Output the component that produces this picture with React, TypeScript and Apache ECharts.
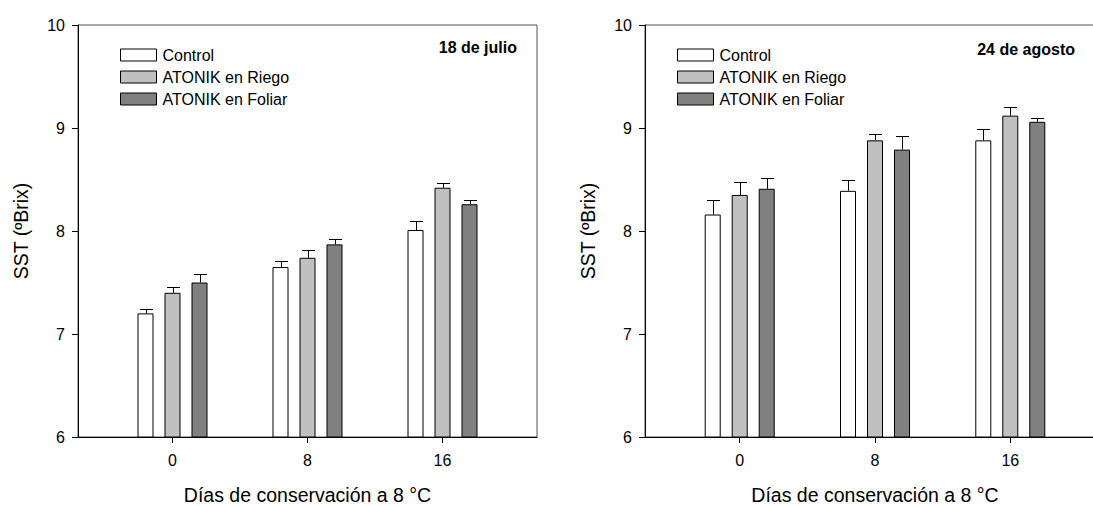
import React, { useEffect, useRef } from "react";
import * as echarts from "echarts";

const FONT = "'Liberation Sans', Arial, Helvetica, sans-serif";

// Days of storage at 8 °C (x positions)
const days = [0, 8, 16];
const dayLabels = ["0", "8", "16"];
const seriesNames = ["Control", "ATONIK en Riego", "ATONIK en Foliar"];
const seriesColors = ["#ffffff", "#c0c0c0", "#808080"];
const yTicks = [6, 7, 8, 9, 10];

// Panel 1: 18 de julio
const julioControl = [7.2, 7.65, 8.01];
const julioControlErr = [0.04, 0.06, 0.09];
const julioRiego = [7.4, 7.74, 8.42];
const julioRiegoErr = [0.06, 0.08, 0.045];
const julioFoliar = [7.5, 7.87, 8.26];
const julioFoliarErr = [0.08, 0.05, 0.04];

// Panel 2: 24 de agosto
const agostoControl = [8.16, 8.39, 8.88];
const agostoControlErr = [0.145, 0.11, 0.11];
const agostoRiego = [8.35, 8.88, 9.12];
const agostoRiegoErr = [0.13, 0.06, 0.085];
const agostoFoliar = [8.41, 8.79, 9.06];
const agostoFoliarErr = [0.1, 0.13, 0.04];

const panelTitles = ["18 de julio", "24 de agosto"];
const xTitle = "Días de conservación a 8 °C";
const yTitle = "SST (ºBrix)";

export default function App() {
  const ref = useRef<HTMLDivElement>(null);

  useEffect(() => {
    if (!ref.current) return;
    const chart = echarts.init(ref.current, null, { renderer: "svg" });

    const panels = [
      {
        vals: [julioControl, julioRiego, julioFoliar],
        errs: [julioControlErr, julioRiegoErr, julioFoliarErr],
      },
      {
        vals: [agostoControl, agostoRiego, agostoFoliar],
        errs: [agostoControlErr, agostoRiegoErr, agostoFoliarErr],
      },
    ];

    const grids = [
      { left: 78, top: 25, width: 459, height: 412 },
      { left: 645, top: 25, width: 460, height: 412 },
    ];

    const barWidth = 16;
    const barPitch = 27;

    const series: any[] = [];
    panels.forEach((p, pi) => {
      p.vals.forEach((vals, ti) => {
        series.push({
          type: "bar",
          name: seriesNames[ti],
          xAxisIndex: pi,
          yAxisIndex: pi,
          data: days.map((d, i) => [d, vals[i]]),
          barWidth: barWidth,
          barGap: "68.75%",
          itemStyle: {
            color: seriesColors[ti],
            borderColor: "#000",
            borderWidth: 1,
          },
          emphasis: { disabled: true },
          z: 2,
        });
      });
      p.vals.forEach((vals, ti) => {
        const off = (ti - 1) * barPitch;
        series.push({
          type: "custom",
          name: "err-" + pi + "-" + ti,
          xAxisIndex: pi,
          yAxisIndex: pi,
          data: days.map((d, i) => [d, vals[i], p.errs[ti][i]]),
          encode: { x: 0, y: 1 },
          z: 3,
          renderItem: (params: any, api: any) => {
            const x = api.value(0);
            const y = api.value(1);
            const e = api.value(2);
            const base = api.coord([x, y]);
            const top = api.coord([x, y + e]);
            const cx = Math.round(base[0] + off) + 0.5;
            const ty = Math.round(top[1]) + 0.5;
            return {
              type: "group",
              children: [
                {
                  type: "line",
                  shape: { x1: cx, y1: base[1], x2: cx, y2: ty },
                  style: { stroke: "#000", lineWidth: 1 },
                },
                {
                  type: "line",
                  shape: { x1: cx - 6.5, y1: ty, x2: cx + 6.5, y2: ty },
                  style: { stroke: "#000", lineWidth: 1 },
                },
              ],
            };
          },
        });
      });
    });

    const option: any = {
      animation: false,
      backgroundColor: "#ffffff",
      textStyle: { fontFamily: FONT },
      grid: grids.map((g) => ({
        ...g,
        show: true,
        borderColor: "#555",
        borderWidth: 1,
        backgroundColor: "transparent",
        containLabel: false,
      })),
      xAxis: grids.map((g, i) => ({
        type: "value",
        gridIndex: i,
        min: -5.6,
        max: 21.6,
        axisLine: { show: true, onZero: false, lineStyle: { color: "#000", width: 1 } },
        axisTick: {
          show: true,
          customValues: days,
          length: 6,
          lineStyle: { color: "#000" },
        },
        axisLabel: {
          show: true,
          customValues: days,
          formatter: (v: number) => dayLabels[days.indexOf(v)] ?? "",
          fontSize: 16,
          color: "#000",
          margin: 15,
          fontFamily: FONT,
        },
        splitLine: { show: false },
      })),
      yAxis: grids.map((g, i) => ({
        type: "value",
        gridIndex: i,
        min: yTicks[0],
        max: yTicks[yTicks.length - 1],
        interval: 1,
        axisLine: { show: true, onZero: false, lineStyle: { color: "#000", width: 1 } },
        axisTick: { show: true, length: 6, lineStyle: { color: "#000" } },
        axisLabel: {
          fontSize: 16,
          color: "#000",
          margin: 13,
          fontFamily: FONT,
        },
        splitLine: { show: false },
      })),
      legend: [115, 672].map((left) => ({
        data: seriesNames,
        orient: "vertical",
        left: left,
        top: 42,
        itemWidth: 36,
        itemHeight: 12,
        itemGap: 6,
        icon: "rect",
        selectedMode: false,
        itemStyle: { borderColor: "#000", borderWidth: 1 },
        textStyle: {
          fontSize: 16,
          color: "#000",
          fontFamily: FONT,
          padding: [0, 0, 0, 1],
        },
      })),
      graphic: [
        ...grids.map((g, i) => ({
          type: "text",
          x: g.left - 57,
          y: g.top + g.height / 2,
          rotation: Math.PI / 2,
          style: {
            text: yTitle,
            fontSize: 19.5,
            fontFamily: FONT,
            fill: "#000",
            textAlign: "center",
            textVerticalAlign: "middle",
          },
        })),
        ...grids.map((g, i) => ({
          type: "text",
          x: g.left + g.width / 2,
          y: 495,
          style: {
            text: xTitle,
            fontSize: 19.5,
            fontFamily: FONT,
            fill: "#000",
            textAlign: "center",
            textVerticalAlign: "middle",
          },
        })),
        {
          type: "text",
          x: 517,
          y: 47,
          style: {
            text: panelTitles[0],
            fontSize: 16,
            fontWeight: "bold",
            fontFamily: FONT,
            fill: "#000",
            textAlign: "right",
            textVerticalAlign: "middle",
          },
        },
        {
          type: "text",
          x: 1075,
          y: 49,
          style: {
            text: panelTitles[1],
            fontSize: 16,
            fontWeight: "bold",
            fontFamily: FONT,
            fill: "#000",
            textAlign: "right",
            textVerticalAlign: "middle",
          },
        },
      ],
      series,
    };

    chart.setOption(option);
    return () => chart.dispose();
  }, []);

  return (
    <div
      style={{
        position: "absolute",
        left: 0,
        top: 0,
        width: 1093,
        height: 506,
        overflow: "hidden",
      }}
    >
      <div ref={ref} style={{ width: 1130, height: 506 }} />
    </div>
  );
}
